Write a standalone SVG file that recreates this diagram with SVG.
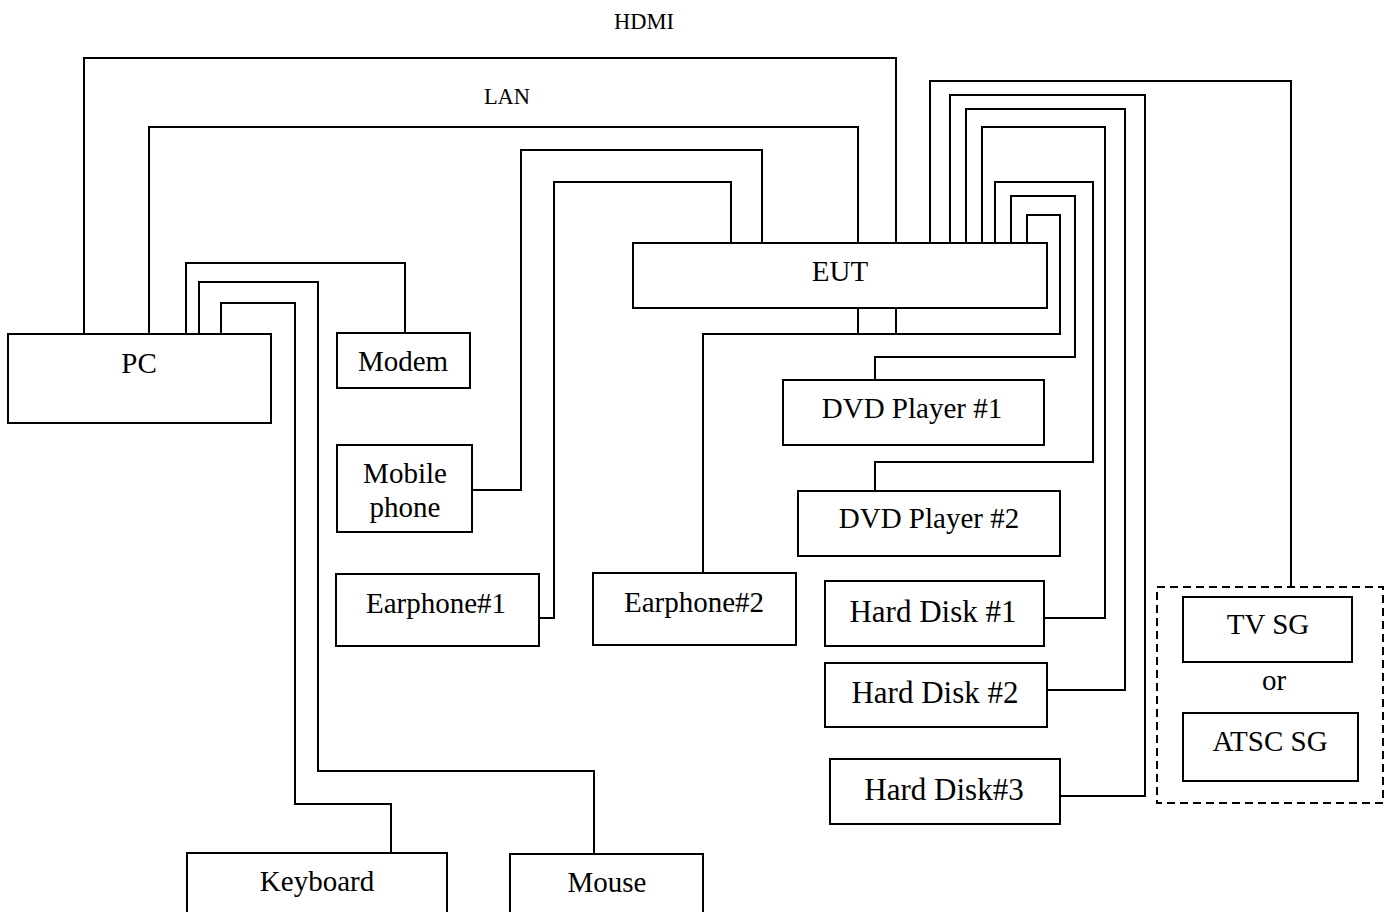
<svg xmlns="http://www.w3.org/2000/svg" width="1390" height="912" viewBox="0 0 1390 912">
<style>
.box{fill:#fff;stroke:#000;stroke-width:2}
.w{fill:none;stroke:#000;stroke-width:2}
.dash{fill:none;stroke:#000;stroke-width:2;stroke-dasharray:8,5}
text{font-family:"Liberation Serif","Times New Roman",serif;font-size:29px;fill:#000;text-anchor:middle}
.hd{font-size:31px}
.lbl{font-size:22.5px}
</style>
<rect width="1390" height="912" fill="#fff"/>
<g id="connectors">
<polyline class="w" points="84,334 84,58 896,58 896,243"/>
<polyline class="w" points="149,334 149,127 858,127 858,243"/>
<polyline class="w" points="186,334 186,263 405,263 405,333"/>
<polyline class="w" points="199,334 199,282 318,282 318,771 594,771 594,854"/>
<polyline class="w" points="221,334 221,303 295,303 295,804 391,804 391,853"/>
<polyline class="w" points="472,490 521,490 521,150 762,150 762,243"/>
<polyline class="w" points="539,618 554,618 554,182 731,182 731,243"/>
<polyline class="w" points="703,573 703,334 1060,334 1060,215 1027,215 1027,243"/>
<polyline class="w" points="858,308 858,334"/>
<polyline class="w" points="896,308 896,334"/>
<polyline class="w" points="875,380 875,357 1075,357 1075,196 1011,196 1011,243"/>
<polyline class="w" points="875,491 875,462 1093,462 1093,182 995,182 995,243"/>
<polyline class="w" points="1044,618 1105,618 1105,127 982,127 982,243"/>
<polyline class="w" points="1047,690 1125,690 1125,109 966,109 966,243"/>
<polyline class="w" points="1060,796 1145,796 1145,95 950,95 950,243"/>
<polyline class="w" points="1291,587 1291,81 930,81 930,243"/>
<text class="lbl" x="644" y="29">HDMI</text>
<text class="lbl" x="507" y="104">LAN</text>
</g>
<g id="pc"><rect class="box" x="8" y="334" width="263" height="89"/><text x="139" y="373">PC</text></g>
<g id="modem"><rect class="box" x="337" y="333" width="133" height="55"/><text x="403" y="371">Modem</text></g>
<g id="mobile"><rect class="box" x="337" y="445" width="135" height="87"/><text x="405" y="483">Mobile</text><text x="405" y="517">phone</text></g>
<g id="earphone1"><rect class="box" x="336" y="574" width="203" height="72"/><text x="436" y="613">Earphone#1</text></g>
<g id="earphone2"><rect class="box" x="593" y="573" width="203" height="72"/><text x="694" y="612">Earphone#2</text></g>
<g id="keyboard"><rect class="box" x="187" y="853" width="260" height="70"/><text x="317" y="891">Keyboard</text></g>
<g id="mouse"><rect class="box" x="510" y="854" width="193" height="70"/><text x="607" y="892">Mouse</text></g>
<g id="eut"><rect class="box" x="633" y="243" width="414" height="65"/><text x="840" y="281">EUT</text></g>
<g id="dvd1"><rect class="box" x="783" y="380" width="261" height="65"/><text x="912" y="418">DVD Player #1</text></g>
<g id="dvd2"><rect class="box" x="798" y="491" width="262" height="65"/><text x="929" y="528">DVD Player #2</text></g>
<g id="hd1"><rect class="box" x="825" y="581" width="219" height="65"/><text class="hd" x="933" y="622">Hard Disk #1</text></g>
<g id="hd2"><rect class="box" x="825" y="663" width="222" height="64"/><text class="hd" x="935" y="703">Hard Disk #2</text></g>
<g id="hd3"><rect class="box" x="830" y="759" width="230" height="65"/><text class="hd" x="944" y="800">Hard Disk#3</text></g>
<g id="sg">
<rect class="dash" x="1157" y="587" width="226" height="216"/>
<g id="tvsg"><rect class="box" x="1183" y="597" width="169" height="65"/><text x="1268" y="634">TV SG</text></g>
<text x="1274" y="690">or</text>
<g id="atscsg"><rect class="box" x="1183" y="713" width="175" height="68"/><text x="1270" y="751">ATSC SG</text></g>
</g>
</svg>
